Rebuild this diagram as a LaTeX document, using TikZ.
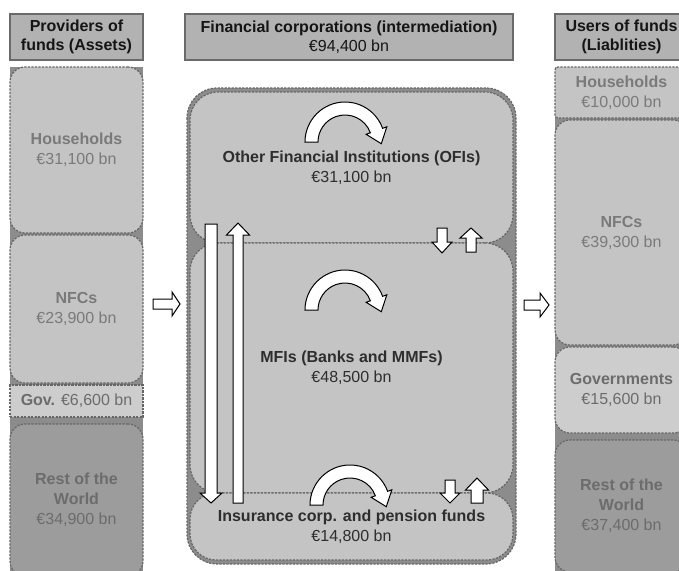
\documentclass[tikz,border=0pt]{standalone}
\usepackage{fontspec}
\setmainfont{Liberation Sans}

\definecolor{colbg}{HTML}{8C8C8C}
\definecolor{boxfill}{HTML}{C4C4C4}
\definecolor{boxlite}{HTML}{CDCDCD}
\definecolor{rowfill}{HTML}{9C9C9C}
\definecolor{headfill}{HTML}{B2B2B2}
\definecolor{headline}{HTML}{6A6A6A}
\definecolor{dashline}{HTML}{666666}
\definecolor{sidetext}{HTML}{7A7A7A}
\definecolor{rowtext}{HTML}{6C6C6C}
\definecolor{midtext}{HTML}{2E2E2E}
\definecolor{headtext}{HTML}{151515}

% vertical block arrow: centre x, shaft end y, head base y, tip y, shaft half width, head half width
\newcommand\vblock[6]{\draw[blk] ({#1-#5},#2) -- ({#1-#5},#3) -- ({#1-#6},#3) -- (#1,#4) -- ({#1+#6},#3) -- ({#1+#5},#3) -- ({#1+#5},#2) -- cycle;}
% horizontal block arrow: centre y, shaft end x, head base x, tip x, shaft half width, head half width
\newcommand\hblock[6]{\draw[blk] (#2,{#1-#5}) -- (#3,{#1-#5}) -- (#3,{#1-#6}) -- (#4,#1) -- (#3,{#1+#6}) -- (#3,{#1+#5}) -- (#2,{#1+#5}) -- cycle;}

\tikzset{
  seg/.style={draw=dashline, line width=1.2pt, dash pattern=on 2.2pt off 1.3pt},
  lbl/.style={align=center, font=\fontsize{16}{20}\selectfont, inner sep=0pt, outer sep=0pt},
  header/.style={lbl, anchor=north west, fill=headfill, draw=headline, line width=1.2pt,
    minimum height=46, text=headtext, font=\fontsize{16}{19.5}\selectfont},
  sidebox/.style={lbl, seg, anchor=north west, minimum width=133, fill=boxfill,
    rounded corners=15, text=sidetext},
  midbox/.style={lbl, seg, anchor=north west, minimum width=323, fill=boxfill,
    rounded corners=28, text=midtext},
  blk/.style={draw=black, fill=white, line width=1pt, line join=miter},
  pics/bendarrow/.style={code={
    \draw[blk, yscale=-1] (180:27) -- (180:40) arc[start angle=180, end angle=20, radius=40]
      -- (20:44.5) -- (36.3,-1.7) -- (20:22.5) -- (20:27)
      arc[start angle=20, end angle=180, radius=27] -- cycle;
  }}
}

\begin{document}
\begin{tikzpicture}[x=1pt, y=-1pt]
\useasboundingbox (0,0) rectangle (679,570);
\fill[white] (0,0) rectangle (679,570);
\clip (0,0) rectangle (679,570);

% ---------- providers of funds ----------
\node[header, minimum width=133] (provhead) at (10,14)
  {\textbf{Providers of}\\\textbf{funds (Assets)}};
\fill[colbg] (10,67) rectangle (143,580);
\node[sidebox, minimum height=166] (lhh) at (10,67) {\textbf{Households}\\€31,100 bn};
\node[sidebox, minimum height=148] (lnfc) at (10,235) {\textbf{NFCs}\\€23,900 bn};
\node[sidebox, minimum height=32, rounded corners=0, fill=boxlite, text=rowtext] (lgov) at (10,385)
  {\textbf{Gov.} €6,600 bn};
\node[sidebox, minimum height=152, fill=rowfill, text=rowtext] (lrow) at (10,424)
  {\textbf{Rest of the}\\\textbf{World}\\€34,900 bn};

% ---------- financial corporations ----------
\node[header, minimum width=328] (finhead) at (185,14)
  {\textbf{Financial corporations (intermediation)}\\€94,400 bn};
\path[seg, fill=colbg, rounded corners=30] (187,88) rectangle (516,564);
\node[midbox, minimum height=151] (ofi) at (190,92)
  {\textbf{Other Financial Institutions (OFIs)}\\€31,100 bn};
\node[midbox, minimum height=250] (mfi) at (190,243)
  {\textbf{MFIs (Banks and MMFs)}\\€48,500 bn};
\node[midbox, minimum height=67, rounded corners=26] (icpf) at (190,493)
  {\textbf{Insurance corp. and pension funds}\\€14,800 bn};

% flows inside each sector
\pic (ofiloop) at (345,142) {bendarrow};
\pic (mfiloop) at (345,310) {bendarrow};
\pic (icpfloop) at (350,505) {bendarrow};

% flows between OFIs and insurance corporations
\vblock{211}{224}{493}{503}{6}{11}
\vblock{238}{503}{235}{223}{5}{11.5}

% flows between OFIs and MFIs
\vblock{442}{228}{242}{253}{5}{10}
\vblock{471}{252}{238}{228}{5}{11}

% flows between MFIs and insurance corporations
\vblock{450}{480}{493}{503}{5}{10}
\vblock{477}{503}{490}{478}{6}{11.5}

% funds in and out of the financial sector
\hblock{304}{153}{172}{180}{5}{12}
\hblock{305}{524}{540}{549}{5}{12}

% ---------- users of funds ----------
\node[header, minimum width=133] (usehead) at (555,14)
  {\textbf{Users of funds}\\\textbf{(Liablities)}};
\fill[colbg] (555,67) rectangle (690,580);
\node[sidebox, minimum height=51, rounded corners=3] (rhh) at (555,67) {\textbf{Households}\\€10,000 bn};
\node[sidebox, minimum height=225] (rnfc) at (555,120) {\textbf{NFCs}\\€39,300 bn};
\node[sidebox, minimum height=86, fill=boxlite, text=rowtext] (rgov) at (555,347)
  {\textbf{Governments}\\€15,600 bn};
\node[sidebox, minimum height=132, fill=rowfill, text=rowtext] (rrow) at (555,440)
  {\textbf{Rest of the}\\\textbf{World}\\€37,400 bn};
\end{tikzpicture}
\end{document}
